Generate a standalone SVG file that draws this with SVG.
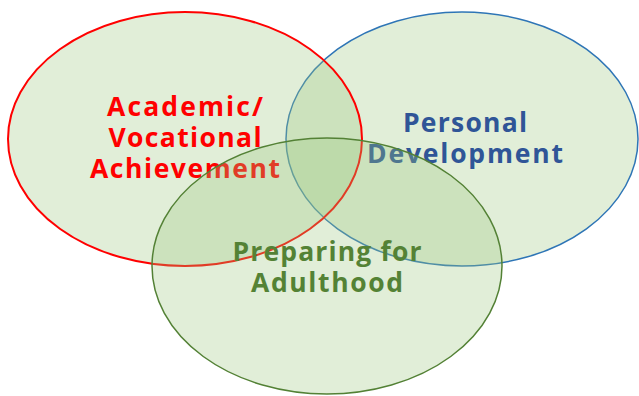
<svg xmlns="http://www.w3.org/2000/svg" width="639" height="396" viewBox="0 0 639 396">
<style>
.c{fill:rgb(155,200,125);fill-opacity:0.3}
.t{font-family:"Open Sans","Liberation Sans",sans-serif;font-weight:bold;font-size:26.5px;text-anchor:middle}
</style>
<rect width="639" height="396" fill="#ffffff"/>
<g id="personal">
<ellipse class="c" cx="462" cy="139" rx="176" ry="127" stroke="#2e75b6" stroke-width="1.5"/>
<text class="t" fill="#2f5597" x="465" y="132" textLength="124">Personal</text>
<text class="t" fill="#2f5597" x="465" y="163" textLength="196">Development</text>
</g>
<g id="academic">
<ellipse class="c" cx="185" cy="139" rx="177" ry="127" stroke="#ff0000" stroke-width="2"/>
<text class="t" fill="#ff0000" x="185" y="116" textLength="156">Academic/</text>
<text class="t" fill="#ff0000" x="185" y="147" textLength="153">Vocational</text>
<text class="t" fill="#ff0000" x="185" y="178" textLength="190">Achievement</text>
</g>
<g id="adulthood">
<ellipse class="c" cx="327" cy="266" rx="175" ry="128" stroke="#538135" stroke-width="1.5"/>
<text class="t" fill="#548235" x="327" y="261" textLength="189">Preparing for</text>
<text class="t" fill="#548235" x="327" y="292" textLength="152">Adulthood</text>
</g>
<g id="connectors"/>
</svg>
